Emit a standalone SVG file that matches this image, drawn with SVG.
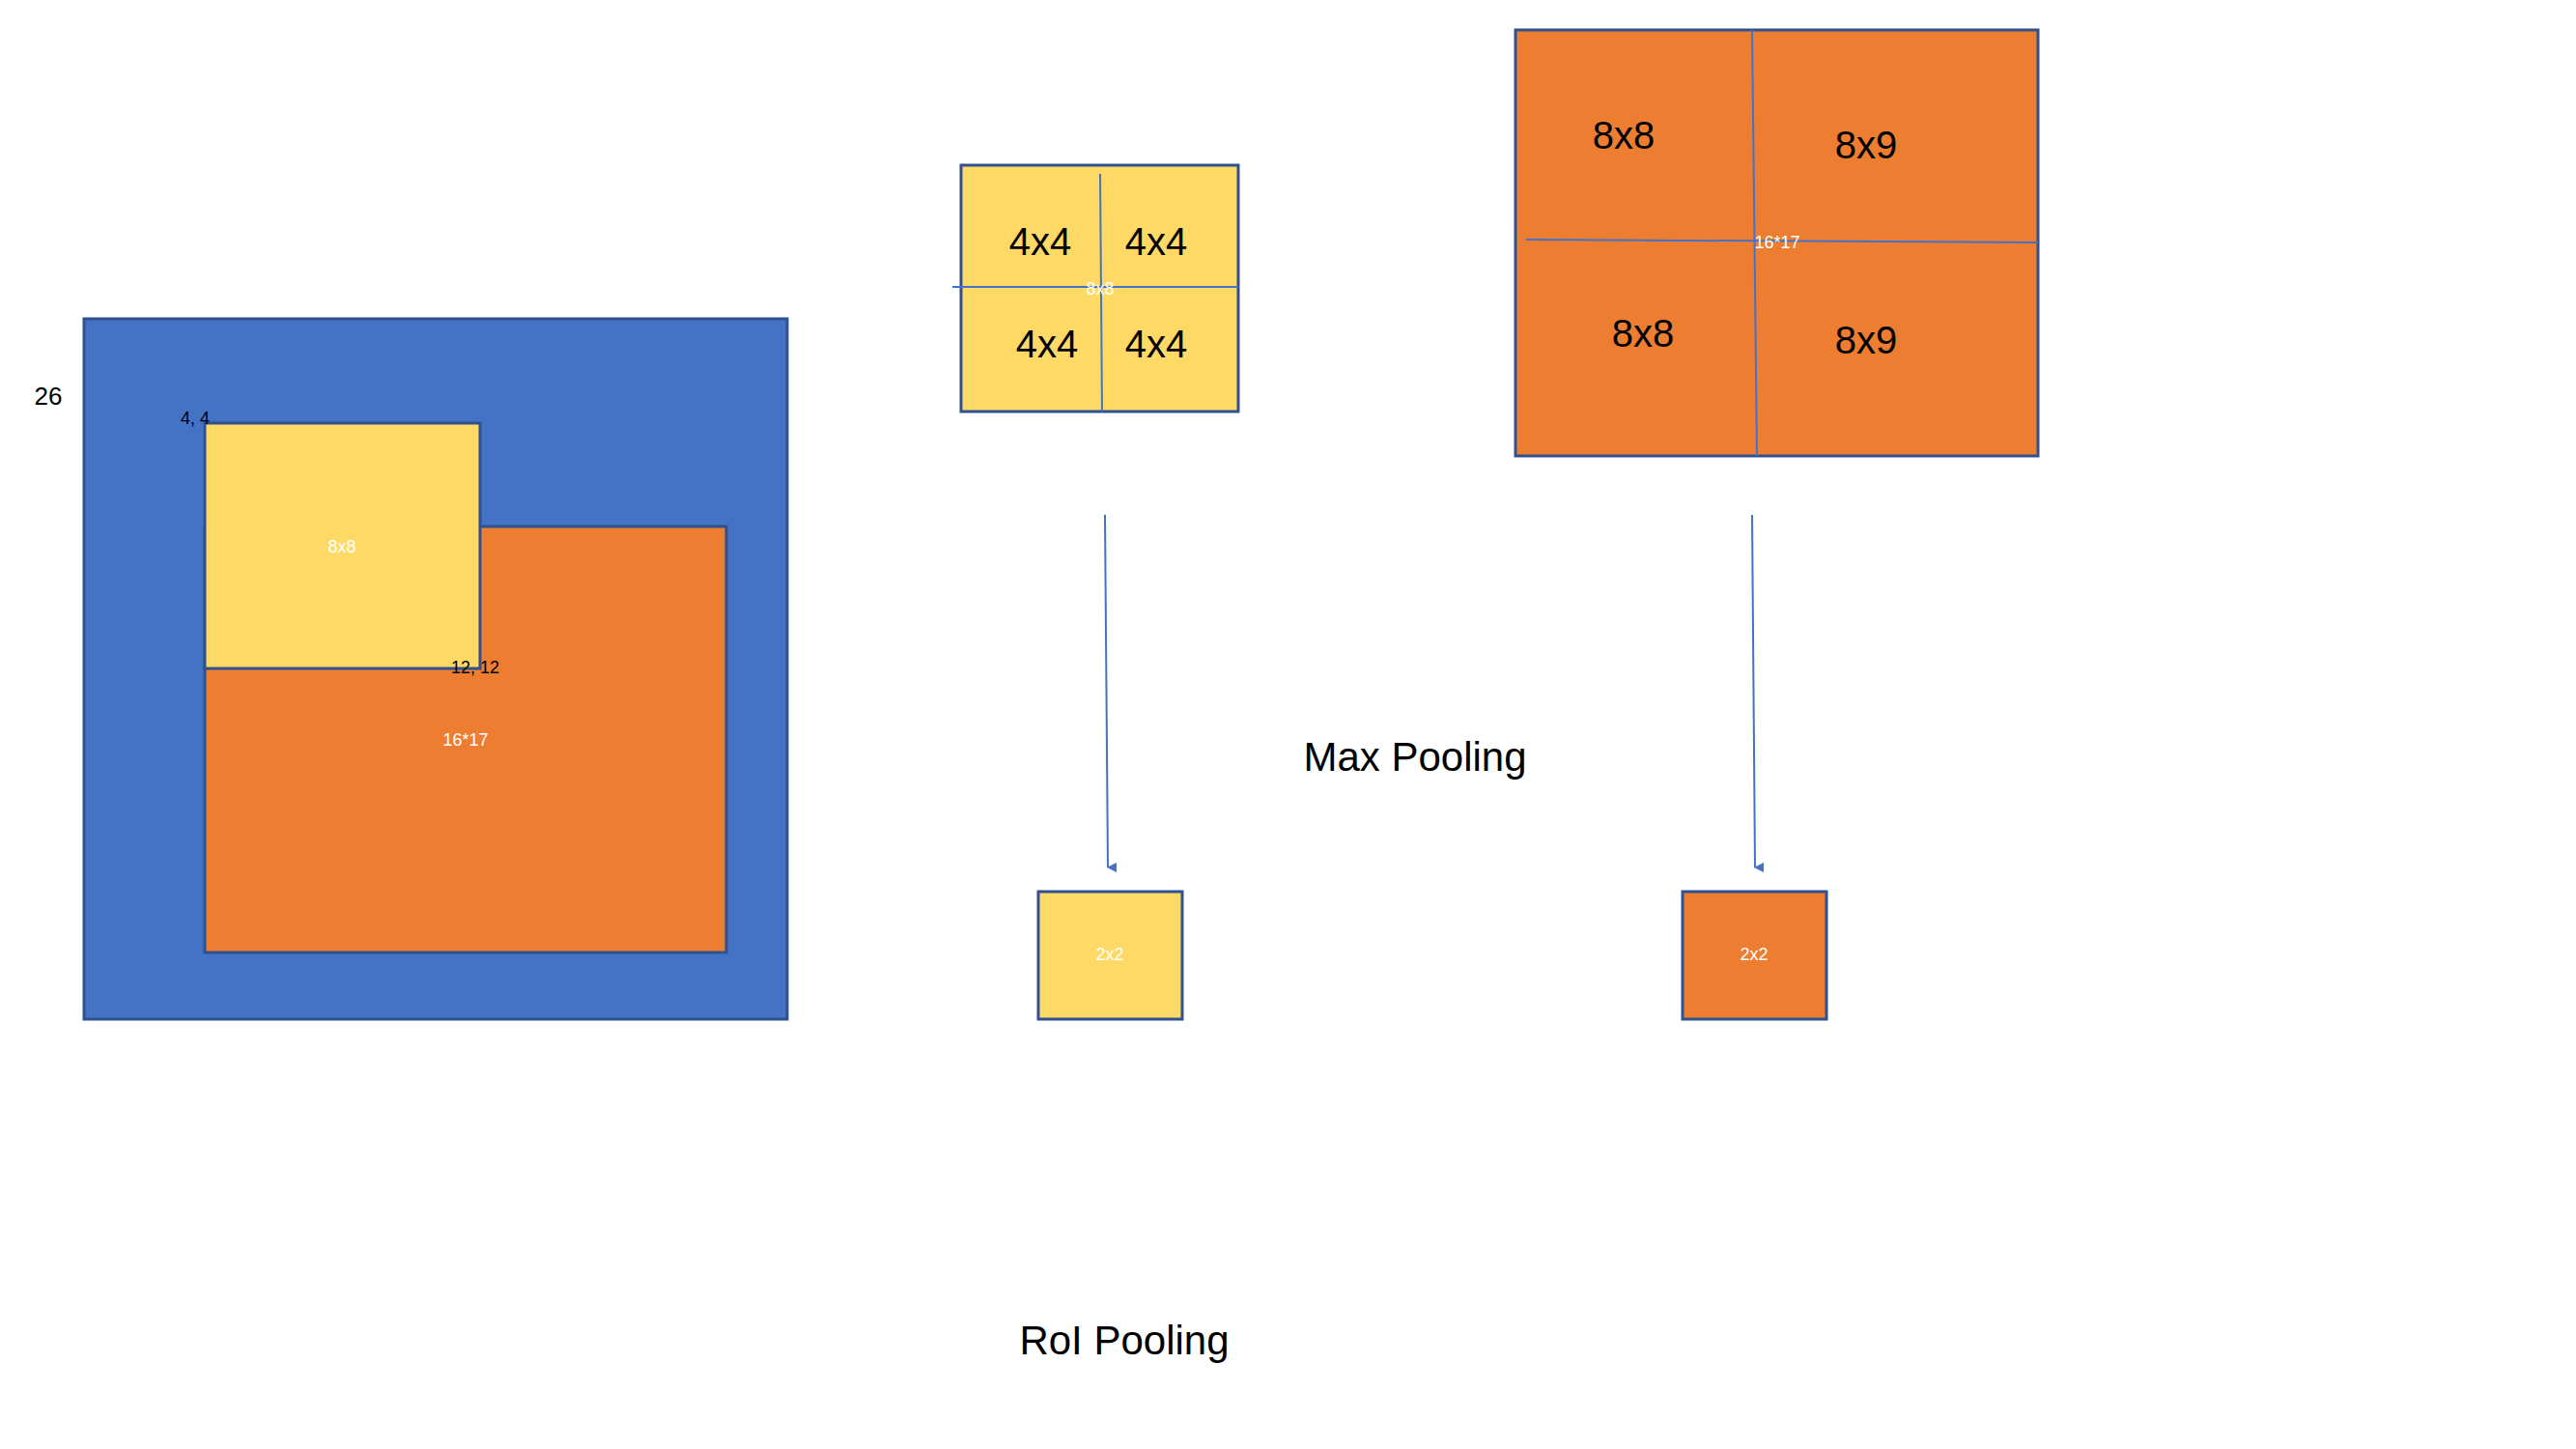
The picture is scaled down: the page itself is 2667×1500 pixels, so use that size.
<svg xmlns="http://www.w3.org/2000/svg" width="2667" height="1500" viewBox="0 0 2667 1500">
<defs>
<style>
.box{stroke:#2F528F;stroke-width:3}
.b{fill:#4472C4}.o{fill:#ED7D31}.y{fill:#FFD966}
text{font-family:"Liberation Sans",Arial,sans-serif;text-anchor:middle;dominant-baseline:central}
.big{font-size:40px;fill:#000}
.sm{font-size:18px;fill:#000}
.w{font-size:18px;fill:#fff}
.lbl{font-size:42px;fill:#000}
.ln{stroke:#4472C4;stroke-width:2;fill:none}
</style>
<marker id="ah" markerWidth="10" markerHeight="10" refX="5" refY="9" orient="auto" markerUnits="userSpaceOnUse" viewBox="0 0 10 10"><path d="M0,0 L10,0 L5,10 Z" fill="#4472C4" transform="rotate(0)"/></marker>
</defs>
<text class="sm" x="50" y="410" style="font-size:26px">26</text>
<g id="feature-map"><rect class="box b" x="87" y="330" width="728" height="725"/></g>
<g id="roi-orange"><rect class="box o" x="212" y="545" width="540" height="441"/><text class="w" x="482" y="766">16*17</text></g>
<g id="roi-yellow"><rect class="box y" x="212" y="438" width="285" height="254"/><text class="w" x="354" y="566">8x8</text></g>
<text class="sm" x="202" y="433">4, 4</text>
<text class="sm" x="492" y="691">12, 12</text>
<g id="yellow-grid">
<rect class="box y" x="995" y="171" width="287" height="255"/>
<line class="ln" x1="1139" y1="180" x2="1141" y2="426"/>
<line class="ln" x1="986" y1="297" x2="1282" y2="297"/>
<text class="w" x="1139" y="299">8x8</text>
<text class="big" x="1077" y="250">4x4</text><text class="big" x="1197" y="250">4x4</text>
<text class="big" x="1084" y="356">4x4</text><text class="big" x="1197" y="356">4x4</text>
</g>
<g id="orange-grid">
<rect class="box o" x="1569" y="31" width="541" height="441"/>
<line class="ln" x1="1580" y1="248" x2="2110" y2="251"/>
<line class="ln" x1="1814" y1="31" x2="1819" y2="472"/>
<text class="w" x="1840" y="251">16*17</text>
<text class="big" x="1681" y="140">8x8</text><text class="big" x="1932" y="150">8x9</text>
<text class="big" x="1701" y="345">8x8</text><text class="big" x="1932" y="352">8x9</text>
</g>
<g id="connectors">
<line class="ln" x1="1144" y1="533" x2="1147" y2="898" marker-end="url(#ah)"/>
<line class="ln" x1="1814" y1="533" x2="1817" y2="898" marker-end="url(#ah)"/>
</g>
<g id="out-yellow"><rect class="box y" x="1075" y="923" width="149" height="132"/><text class="w" x="1149" y="988">2x2</text></g>
<g id="out-orange"><rect class="box o" x="1742" y="923" width="149" height="132"/><text class="w" x="1816" y="988">2x2</text></g>
<text class="lbl" x="1465" y="783">Max Pooling</text>
<text class="lbl" x="1164" y="1387">RoI Pooling</text>
</svg>
